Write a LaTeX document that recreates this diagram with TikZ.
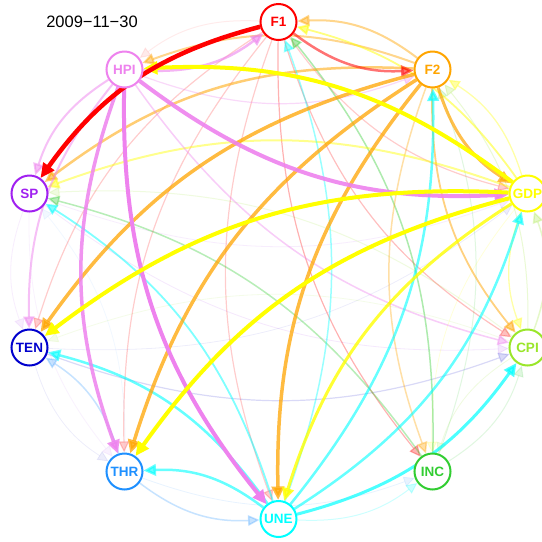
\documentclass[tikz,border=0pt]{standalone}
\usepackage{fontspec}
\setmainfont{Liberation Sans}
\usetikzlibrary{arrows.meta}
\definecolor{cF1}{HTML}{FF0000}
\definecolor{cF2}{HTML}{FFA500}
\definecolor{cGDP}{HTML}{FFFF00}
\definecolor{cCPI}{HTML}{9AE62A}
\definecolor{cINC}{HTML}{32CD32}
\definecolor{cUNE}{HTML}{00FFFF}
\definecolor{cTHR}{HTML}{1E90FF}
\definecolor{cTEN}{HTML}{0000CD}
\definecolor{cSP}{HTML}{A020F0}
\definecolor{cHPI}{HTML}{EE82EE}
\pgfdeclarelayer{bg}
\pgfsetlayers{bg,main}
\begin{document}
\begin{tikzpicture}[x=1pt,y=-1pt,
  nd/.style={circle,draw=#1,text=#1,line width=2pt,fill=white,minimum size=36pt,inner sep=0pt,
    font=\fontsize{13.5}{13.5}\selectfont\bfseries},
  ed/.style n args={3}{draw=#1,line width=#2pt,draw opacity=#3,fill opacity=#3,
    -{Triangle[length=10pt 1,width=9.5pt 0.8]},bend right=20}]
\useasboundingbox (0,0) rectangle (542,542);
\node[font=\fontsize{16.5}{16.5}\selectfont] (title) at (92,22) {2009\textminus11\textminus30};
\node[nd=cF1]  (F1)  at (278.5,22)    {F1};
\node[nd=cF2]  (F2)  at (432.5,69.5)  {F2};
\node[nd=cGDP] (GDP) at (527.5,193.5) {GDP};
\node[nd=cCPI] (CPI) at (527.5,347.5) {CPI};
\node[nd=cINC] (INC) at (432.5,471.5) {INC};
\node[nd=cUNE] (UNE) at (278.5,519)   {UNE};
\node[nd=cTHR] (THR) at (124.5,471.5) {THR};
\node[nd=cTEN] (TEN) at (29.5,347.5)  {TEN};
\node[nd=cSP]  (SP)  at (29.5,193.5)  {SP};
\node[nd=cHPI] (HPI) at (124.5,69.5)  {HPI};
\begin{pgfonlayer}{bg}
\fill[white] (0,0) rectangle (542,542);
% very faint
\draw[ed={cSP}{0.8}{0.1}] (SP) to (CPI);
\draw[ed={cSP}{0.8}{0.08}] (SP) to (GDP);
\draw[ed={cSP}{0.8}{0.08}] (SP) to (TEN);
\draw[ed={cSP}{0.8}{0.06}] (SP) to (THR);
\draw[ed={cTEN}{0.8}{0.07}] (TEN) to (GDP);
\draw[ed={cTEN}{0.8}{0.07}] (TEN) to (THR);
\draw[ed={cTEN}{1.2}{0.15}] (TEN) to (CPI);
\draw[ed={cTHR}{0.8}{0.1}] (THR) to (INC);
\draw[ed={cTHR}{0.8}{0.06}] (THR) to (SP);
\draw[ed={cCPI}{0.8}{0.1}] (CPI) to (TEN);
\draw[ed={cCPI}{0.8}{0.15}] (CPI) to (INC);
\draw[ed={cCPI}{1}{0.15}] (CPI) to (SP);
\draw[ed={cCPI}{1}{0.2}] (CPI) to (F2);
\draw[ed={cCPI}{1.5}{0.25}] (CPI) to (GDP);
\draw[ed={cINC}{1}{0.15}] (INC) to (CPI);
\draw[ed={cINC}{1}{0.15}] (INC) to (F2);
\draw[ed={cGDP}{0.8}{0.15}] (GDP) to (INC);
\draw[ed={cF1}{1}{0.08}] (F1) to (HPI);
\draw[ed={cUNE}{1}{0.2}] (UNE) to (INC);
\draw[ed={cTHR}{1.5}{0.25}] (THR) to (TEN);
\draw[ed={cTHR}{1.5}{0.25}] (THR) to (UNE);
% light red
\draw[ed={cF1}{1.2}{0.2}] (F1) to (GDP);
\draw[ed={cF1}{1.2}{0.25}] (F1) to (CPI);
\draw[ed={cF1}{1.2}{0.3}] (F1) to (INC);
\draw[ed={cF1}{1.2}{0.2}] (F1) to (UNE);
\draw[ed={cF1}{1.2}{0.2}] (F1) to (THR);
\draw[ed={cF1}{1.2}{0.2}] (F1) to (TEN);
% green
\draw[ed={cINC}{1.5}{0.4}] (INC) to (F1);
\draw[ed={cINC}{1.5}{0.35}] (INC) to (SP);
% light orange / yellow / violet
\draw[ed={cF2}{1.5}{0.35}] (F2) to (INC);
\draw[ed={cF2}{1.8}{0.5}] (F2) to (CPI);
\draw[ed={cF2}{2}{0.45}] (F2) to (HPI);
\draw[ed={cF2}{2}{0.45}] (F2) to (F1);
\draw[ed={cF2}{2.5}{0.55}] (F2) to (SP);
\draw[ed={cGDP}{2}{0.45}] (GDP) to (SP);
\draw[ed={cGDP}{1.8}{0.5}] (GDP) to (F1);
\draw[ed={cGDP}{1.3}{0.35}] (GDP) to (F2);
\draw[ed={cGDP}{1.3}{0.35}] (GDP) to (CPI);
\draw[ed={cHPI}{1.5}{0.4}] (HPI) to (CPI);
\draw[ed={cHPI}{1.2}{0.3}] (HPI) to (F2);
\draw[ed={cHPI}{2}{0.5}] (HPI) to (SP);
\draw[ed={cHPI}{2}{0.5}] (HPI) to (TEN);
\draw[ed={cHPI}{2.5}{0.6}] (HPI) to (F1);
% cyan
\draw[ed={cUNE}{1.5}{0.4}] (UNE) to (F1);
\draw[ed={cUNE}{1.8}{0.5}] (UNE) to (SP);
\draw[ed={cUNE}{2.5}{0.6}] (UNE) to (F2);
\draw[ed={cUNE}{2.5}{0.6}] (UNE) to (GDP);
\draw[ed={cUNE}{2.5}{0.6}] (UNE) to (TEN);
\draw[ed={cUNE}{2.5}{0.6}] (UNE) to (THR);
\draw[ed={cUNE}{3}{0.7}] (UNE) to (CPI);
% strong
\draw[ed={cF1}{2.5}{0.55}] (F1) to (F2);
\draw[ed={cF2}{3}{0.7}] (F2) to (GDP);
\draw[ed={cF2}{3.5}{0.75}] (F2) to (TEN);
\draw[ed={cF2}{3.5}{0.75}] (F2) to (THR);
\draw[ed={cF2}{3.5}{0.75}] (F2) to (UNE);
\draw[ed={cHPI}{3.5}{0.85}] (HPI) to (THR);
\draw[ed={cHPI}{4}{0.9}] (HPI) to (GDP);
\draw[ed={cHPI}{4}{1}] (HPI) to (UNE);
\draw[ed={cGDP}{3}{0.8}] (GDP) to (UNE);
\draw[ed={cGDP}{4}{1}] (GDP) to (HPI);
\draw[ed={cGDP}{4}{1}] (GDP) to (TEN);
\draw[ed={cGDP}{4}{1}] (GDP) to (THR);
\draw[ed={cF1}{4.5}{1}] (F1) to (SP);
\end{pgfonlayer}
\end{tikzpicture}
\end{document}
